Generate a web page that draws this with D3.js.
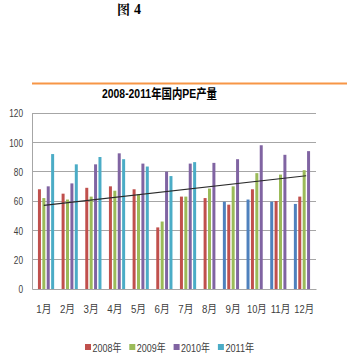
<!DOCTYPE html>
<html><head><meta charset="utf-8">
<script src="https://cdn.jsdelivr.net/npm/d3@7"></script>
<style>
body{margin:0;background:#fff;}
svg{display:block;}
</style></head>
<body><svg id="c" width="347" height="364"></svg>
<script>
const months = ["1月","2月","3月","4月","5月","6月","7月","8月","9月","10月","11月","12月"];
const yTicks = [0,20,40,60,80,100,120];
const seriesNames = ["", "2008年", "2009年", "2010年", "2011年"];
const seriesColors = ["#4F81BD", "#C0504D", "#9BBB59", "#8064A2", "#4BACC6"];
const sExtra = [null,null,null,null,null,null,null,null,59.5,61,59.5,58];
const s2008 = [68,65,69,70,68,42,63,62,57.5,68,60,63];
const s2009 = [62,61,63,67,64.5,46,63,68.5,70,79,78,81];
const s2010 = [70,72,85,92.5,85.5,80,85.5,86,88.5,98,91.5,94];
const s2011 = [92,85,90,88.5,83.5,77,86.5,null,null,null,null,null];
const trend = [57, 77.2];
const titleText = "2008-2011年国内PE产量";

const allSeries = [sExtra, s2008, s2009, s2010, s2011];
const svg = d3.select("#c");
const L = 32, R = 316, T = 113, B = 289;
const FONT = "'Liberation Sans','Noto Sans CJK SC'";

// condensed look: fit text into a width estimated from its characters
function narrow(sel){
  sel.each(function(){
    const s = d3.select(this).text();
    let w = 0;
    for(const ch of s) w += /[\x00-\x7F]/.test(ch) ? 4.6 : 10.5;
    d3.select(this).attr("textLength", w).attr("lengthAdjust","spacingAndGlyphs");
  });
}

// header
const hdr = svg.append("text").attr("x",117).attr("y",14).attr("font-weight","bold").attr("fill","#000");
hdr.append("tspan").attr("font-family","'Noto Serif CJK SC','Noto Sans CJK SC'").attr("font-size",13).text("图");
hdr.append("tspan").attr("font-family","'Liberation Serif'").attr("font-size",14).attr("dx",4).text("4");

// orange rule
svg.append("line").attr("x1",32).attr("x2",347).attr("y1",83.5).attr("y2",83.5)
  .attr("stroke","#F79646").attr("stroke-width",2);

// title
svg.append("text").attr("x",159.5).attr("y",98).attr("text-anchor","middle")
  .attr("font-family",FONT)
  .attr("font-weight","bold").attr("font-size",13).attr("fill","#000")
  .attr("textLength",115).attr("lengthAdjust","spacingAndGlyphs").text(titleText);

const y = d3.scaleLinear().domain([0,120]).range([B,T]);
const x0 = d3.scaleBand().domain(months).range([L,R]);
const cw = 22;
const x1 = d3.scaleBand().domain(d3.range(5)).range([(x0.bandwidth()-cw)/2,(x0.bandwidth()+cw)/2])
  .paddingInner(0.32).paddingOuter(0.16);

// gridlines
svg.append("g").selectAll("line").data(yTicks.filter(d=>d>0)).join("line")
  .attr("x1",L).attr("x2",R).attr("y1",d=>y(d)).attr("y2",d=>y(d))
  .attr("stroke","#A6A6A6").attr("stroke-width",1).attr("shape-rendering","crispEdges");

// y axis
const yAxis = svg.append("g").attr("transform",`translate(${L},0)`)
  .call(d3.axisLeft(y).tickValues(yTicks).tickSize(0).tickPadding(9));
yAxis.select(".domain").attr("stroke","#A6A6A6");
yAxis.selectAll("text").attr("font-family",FONT).attr("font-size",11.5).attr("fill","#404040").call(narrow);

// bars
const g = svg.append("g");
months.forEach((m,i)=>{
  allSeries.forEach((s,k)=>{
    const v = s[i];
    if(v==null) return;
    g.append("rect").attr("x",x0(m)+x1(k)).attr("width",x1.bandwidth())
      .attr("y",y(v)).attr("height",y(0)-y(v)).attr("fill",seriesColors[k]);
  });
});

// x axis
const xAxis = svg.append("g").attr("transform",`translate(0,${B})`)
  .call(d3.axisBottom(x0).tickSize(0).tickPadding(16));
xAxis.select(".domain").attr("stroke","#A6A6A6");
xAxis.selectAll("text").attr("font-family",FONT).attr("font-size",11).attr("fill","#404040").call(narrow);

// trendline
svg.append("line")
  .attr("x1",x0(months[0])+x0.bandwidth()/2).attr("y1",y(trend[0]))
  .attr("x2",x0(months[11])+x0.bandwidth()/2+2).attr("y2",y(trend[1]))
  .attr("stroke","#2b2b2b").attr("stroke-width",1.2);

// legend
const leg = svg.append("g");
[1,2,3,4].forEach((k,j)=>{
  const lx = 85 + j*44.3;
  leg.append("rect").attr("x",lx).attr("y",344).attr("width",6).attr("height",6).attr("fill",seriesColors[k]);
  leg.append("text").attr("x",lx+7.5).attr("y",351.5).attr("fill","#404040")
    .attr("font-family",FONT).attr("font-size",11).text(seriesNames[k]).call(narrow);
});
</script></body></html>
